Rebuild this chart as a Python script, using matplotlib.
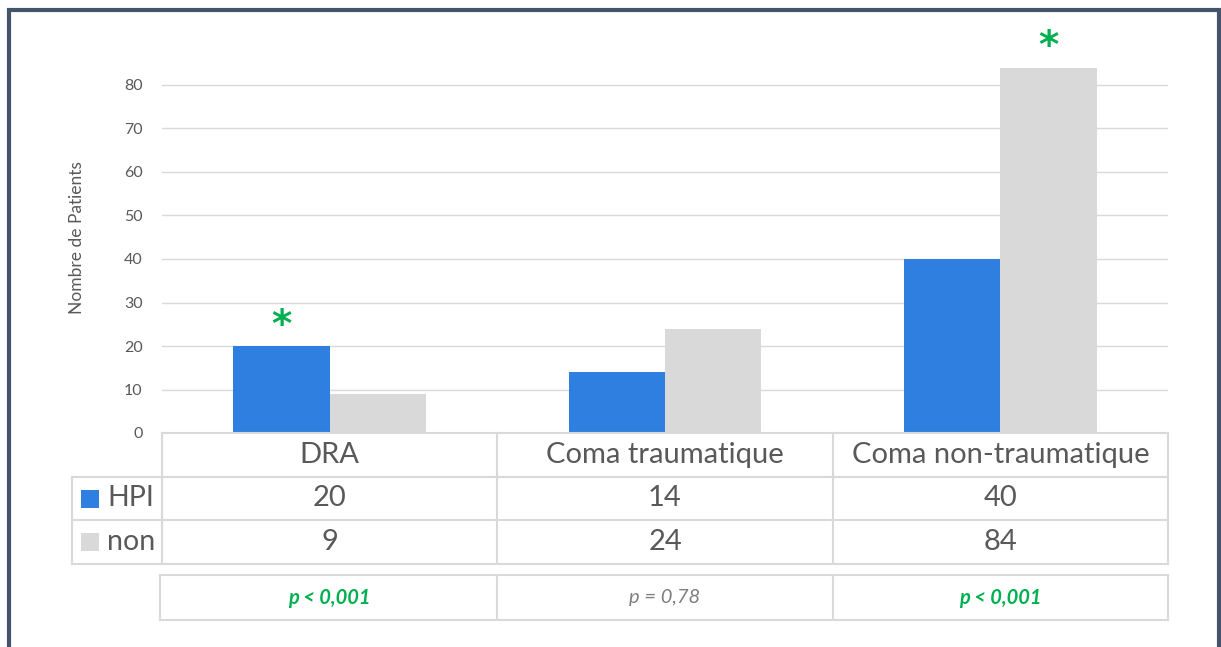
import matplotlib
matplotlib.use("Agg")
import matplotlib.pyplot as plt
from matplotlib.patches import Rectangle
from matplotlib.lines import Line2D
import numpy as np

categories = ["DRA", "Coma traumatique", "Coma non-traumatique"]
series_names = ["HPI", "non"]
hpi = [20, 14, 40]
non = [9, 24, 84]
p_values = ["p < 0,001", "p = 0,78", "p < 0,001"]
p_signif = [True, False, True]
star_series = ["HPI", None, "non"]   # which bar carries the significance star
yticks = [0, 10, 20, 30, 40, 50, 60, 70, 80]

BLUE = "#2E7FE0"
GRAY = "#D9D9D9"
GREEN = "#00B050"
TXT = "#595959"
LINE = "#D9D9D9"
FRAME = "#44546A"

plt.rcParams['font.family'] = ['Lato', 'DejaVu Sans']

W, H = 1221, 647
fig = plt.figure(figsize=(W / 100, H / 100), dpi=100)

def fx(px):
    return px / W

def fy(py):
    return 1 - py / H

# main axes in pixel geometry
L, R, B, T = 162, 1168, 433, 41.5
ax = fig.add_axes([fx(L), fy(B), fx(R) - fx(L), fy(T) - fy(B)])
ax.set_xlim(-0.5, len(categories) - 0.5)
ax.set_ylim(0, 90)
ax.set_yticks(yticks)
ax.set_xticks([])
ax.tick_params(axis='y', length=0, pad=14, labelsize=11.5, labelcolor=TXT)
for s in ax.spines.values():
    s.set_visible(False)
ax.grid(axis='y', color=LINE, linewidth=1)
ax.set_axisbelow(True)

x = np.arange(len(categories))
w = 0.287
ax.bar(x - w / 2, hpi, width=w, color=BLUE, zorder=3)
ax.bar(x + w / 2, non, width=w, color=GRAY, zorder=3)

for i, s in enumerate(star_series):
    if s is None:
        continue
    if s == "HPI":
        xs, ys = x[i] - w / 2, hpi[i]
    else:
        xs, ys = x[i] + w / 2, non[i]
    ax.annotate("*", (xs, ys), xytext=(0, 1), textcoords="offset points",
                ha="center", va="bottom", color=GREEN, fontsize=28,
                fontweight="bold", annotation_clip=False, family="DejaVu Sans")

fig.text(fx(77), fy(238), "Nombre de Patients", rotation=90, ha="center",
         va="center", fontsize=12.5, color=TXT)

# table geometry derived from the category axis
def data_to_px(xd):
    disp = ax.transData.transform((xd, 0))
    return fig.transFigure.inverted().transform(disp)[0] * W

bounds = [data_to_px(i - 0.5) for i in range(len(categories) + 1)]
centers = [data_to_px(i) for i in range(len(categories))]

def hline(y, x0, x1, lw=1.5):
    fig.add_artist(Line2D([fx(x0), fx(x1)], [fy(y), fy(y)], color=LINE, lw=lw))

def vline(xp, y0, y1, lw=1.5):
    fig.add_artist(Line2D([fx(xp), fx(xp)], [fy(y0), fy(y1)], color=LINE, lw=lw))

row_y = [433, 477, 520, 564]
hline(row_y[0], bounds[0], bounds[-1])
for yy in row_y[1:]:
    hline(yy, 72, bounds[-1])
for bx in bounds:
    vline(bx, row_y[0], row_y[-1])
vline(72, row_y[1], row_y[-1])

FS = 21
for i, c in enumerate(categories):
    fig.text(fx(centers[i]), fy((row_y[0] + row_y[1]) / 2), c, ha="center",
             va="center", fontsize=FS, color=TXT)
    fig.text(fx(centers[i]), fy((row_y[1] + row_y[2]) / 2), str(hpi[i]),
             ha="center", va="center", fontsize=FS, color=TXT)
    fig.text(fx(centers[i]), fy((row_y[2] + row_y[3]) / 2), str(non[i]),
             ha="center", va="center", fontsize=FS, color=TXT)

for k, (name, col) in enumerate(zip(series_names, [BLUE, GRAY])):
    yc = (row_y[k + 1] + row_y[k + 2]) / 2
    fig.add_artist(Rectangle((fx(81), fy(yc + 9)), fx(18), 18 / H,
                             facecolor=col, edgecolor="none"))
    fig.text(fx(107), fy(yc), name, ha="left", va="center", fontsize=20.5, color=TXT)

# p-value row
py0, py1 = 575, 620
pb = [160] + bounds[1:]
hline(py0, pb[0], pb[-1])
hline(py1, pb[0], pb[-1])
for bx in pb:
    vline(bx, py0, py1)
for i, p in enumerate(p_values):
    if p_signif[i]:
        fig.text(fx(centers[i]), fy((py0 + py1) / 2), p, ha="center", va="center",
                 fontsize=14.5, color=GREEN, fontweight="bold", fontstyle="italic")
    else:
        fig.text(fx(centers[i]), fy((py0 + py1) / 2), p, ha="center", va="center",
                 fontsize=14.5, color="#7F7F7F", fontstyle="italic")

# outer frame
fig.add_artist(Rectangle((fx(9), fy(H + 20)), fx(1219) - fx(9), (H + 20 - 9.5) / H,
                         facecolor="none", edgecolor=FRAME, lw=3))

fig.savefig("out.png", dpi=100)
